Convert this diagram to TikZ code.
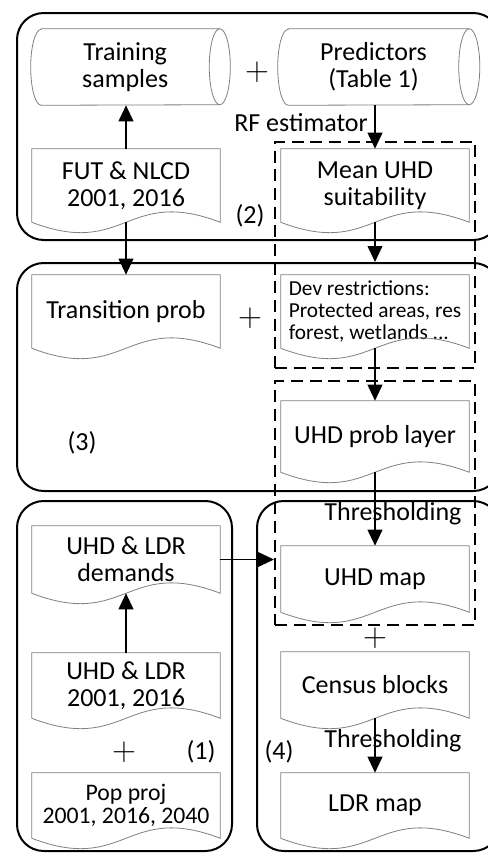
\documentclass[tikz,border=0pt]{standalone}
\usepackage{fontspec}
\setmainfont{Carlito}
\usetikzlibrary{arrows.meta,calc}
\newcommand\mainfs{\fontsize{19.5}{20.5}\selectfont}
\newcommand\devfs{\fontsize{16}{16.3}\selectfont}
\newcommand\popfs{\fontsize{17.8}{17.5}\selectfont}
\newcommand\docshape[1]{\draw[docline] (#1.south west) -- (#1.north west) -- (#1.north east) -- (#1.south east) .. controls ($(#1.south)+(0,-36)$) and ($(#1.south)+(0,36)$) .. (#1.south west);}
\newcommand\cylshape[1]{\draw[docline] ($(#1.north west)+(10.5,0)$) -- (#1.north east) arc[start angle=90,end angle=-90,x radius=7.9pt,y radius=28.5pt] -- ($(#1.south west)+(10.5,0)$) arc[start angle=270,end angle=90,x radius=7.9pt,y radius=28.5pt] -- cycle;
\draw[docline] (#1.north east) arc[start angle=90,end angle=270,x radius=7.9pt,y radius=28.5pt];}
\begin{document}
\begin{tikzpicture}[x=0.75pt,y=-0.75pt,
  grp/.style={draw, line width=1.5pt, rounded corners=20pt, inner sep=0pt},
  dbox/.style={draw, line width=1.5pt, dash pattern=on 9pt off 5pt, inner sep=0pt, minimum width=150pt},
  doc/.style={inner sep=0pt, minimum width=141pt, align=center, font=\mainfs},
  cyl/.style={inner sep=0pt, minimum height=57pt, align=center, font=\mainfs},
  docline/.style={draw=black!50, line width=0.6pt},
  arr/.style={line width=1.4pt, -{Triangle[width=11pt,length=12pt]}},
  lbl/.style={font=\mainfs, inner sep=0pt},
  plus/.style={inner sep=0pt, font=\fontsize{26}{26}\selectfont}
]
\useasboundingbox (0,0) rectangle (488,853);
\fill[white] (0,0) rectangle (488,853);
\clip (0,0) rectangle (488,853);
% groups
\node[grp, minimum width=362.25pt, minimum height=170.25pt] (g2) at (258.5,126.5) {};
\node[grp, minimum width=362.25pt, minimum height=171pt] (g3) at (258.5,377) {};
\node[grp, minimum width=161.25pt, minimum height=262.5pt] (g1) at (124.5,676) {};
\node[grp, minimum width=182.25pt, minimum height=262.5pt] (g4) at (378.5,676) {};
% dashed boxes
\node[dbox, minimum height=169.5pt] (d1) at (375,255) {};
\node[dbox, minimum height=183pt] (d2) at (375,503) {};
% cylinders
\node[cyl, minimum width=141.4pt] (train) at (125.25,67) {Training\\samples};
\node[cyl, minimum width=143.25pt] (pred) at (373.5,67) {Predictors\\(Table 1)};
\cylshape{train}
\cylshape{pred}
% documents
\node[doc, minimum height=54.75pt] (fut) at (126,185.5) {FUT \& NLCD\\2001, 2016};
\node[doc, minimum height=54.75pt] (mean) at (375,185.5) {Mean UHD\\suitability};
\node[doc, minimum height=54.75pt] (trans) at (126,311.5) {Transition prob};
\node[doc, minimum height=54.75pt, font=\devfs, align=left] (dev) at (375,311.5) {Dev restrictions:\\Protected areas, res\\forest, wetlands ...};
\node[doc, minimum height=53.25pt] (prob) at (375,436.5) {UHD prob layer};
\node[doc, minimum height=49.5pt] (uhdmap) at (375,579) {UHD map};
\node[doc, minimum height=49.5pt] (census) at (375,685) {Census blocks};
\node[doc, minimum height=48.75pt] (ldr) at (375,805.5) {LDR map};
\node[doc, minimum height=50.25pt] (dem) at (126,559.5) {UHD \& LDR\\demands};
\node[doc, minimum height=48.75pt] (ul) at (126,685.5) {UHD \& LDR\\2001, 2016};
\node[doc, minimum height=48.75pt, font=\popfs] (pop) at (126,805.5) {Pop proj\\2001, 2016, 2040};
\foreach \n in {fut,mean,trans,dev,prob,uhdmap,census,ldr,dem,ul,pop}{\docshape{\n}}
% plus signs
\node[plus] (p1) at (257,72) {$+$};
\node[plus] (p2) at (250,318) {$+$};
\node[plus] (p3) at (375,638) {$+$};
\node[plus] (p4) at (124,752) {$+$};
% labels
\node[lbl, anchor=east] (rf) at (368,123) {RF estimator};
\node[lbl] (th1) at (393,514) {Thresholding};
\node[lbl] (th2) at (393,741) {Thresholding};
\node[lbl] (l1) at (201,752) {(1)};
\node[lbl] (l2) at (250,216) {(2)};
\node[lbl] (l3) at (82,443) {(3)};
\node[lbl] (l4) at (279,752) {(4)};
% arrows
\draw[arr] (fut.north) -- (fut.north |- train.south);
\draw[arr] (mean.north |- pred.south) -- (mean.north);
\draw[arr] (fut.south) -- (trans.north);
\draw[arr] (mean.south) -- (mean.south |- g3.north);
\draw[arr] (dev.south) -- (prob.north);
\draw[arr] (prob.south) -- (uhdmap.north);
\draw[arr] (dem.east) -- (dem.east -| d2.west);
\draw[arr] (ul.north) -- (dem.south);
\draw[arr] (census.south) -- (ldr.north);
\end{tikzpicture}
\end{document}
